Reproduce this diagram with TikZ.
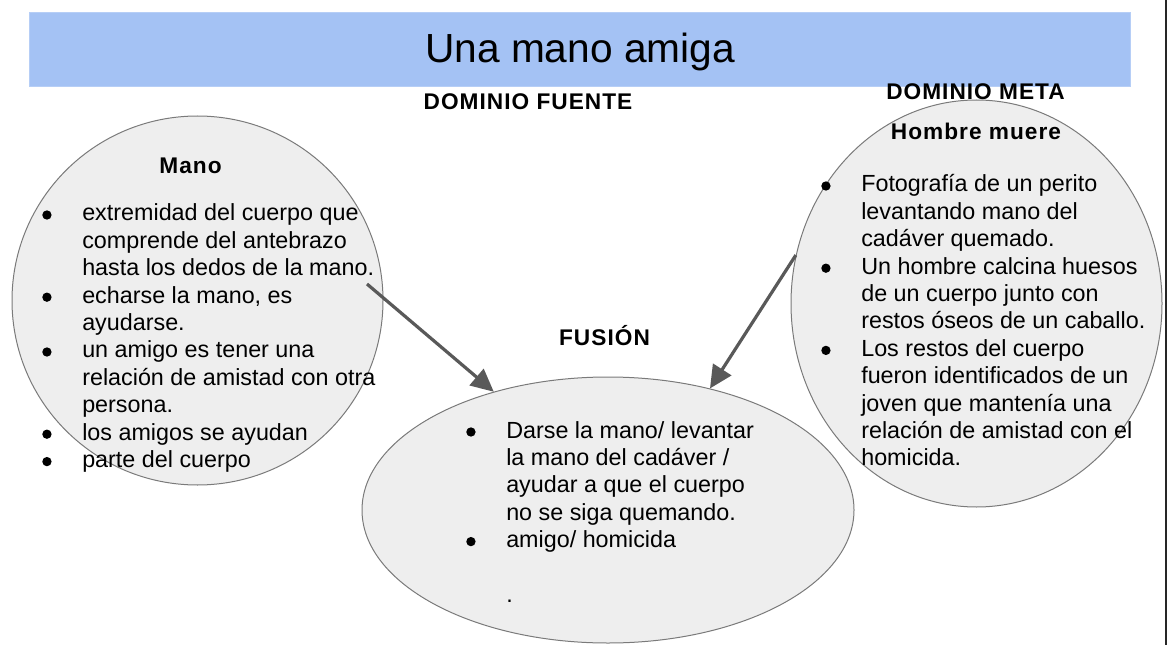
\documentclass[tikz,border=0pt]{standalone}
\usepackage{fontspec}
\setmainfont{Liberation Sans}
\usepackage{tikz}
\usetikzlibrary{shapes.geometric,arrows.meta}
\definecolor{banner}{HTML}{A4C2F4}
\definecolor{bubble}{HTML}{EEEEEE}
\definecolor{rim}{HTML}{7A7A7A}
\definecolor{arrowgray}{HTML}{595959}
\newlength{\bulw}\setlength{\bulw}{30pt}
\newcommand{\blt}{\tikz[baseline=-4.5pt]\fill (0,0) circle (3.5pt);}

\begin{document}
\begin{tikzpicture}[x=0.75pt,y=-0.75pt,
blob/.style={ellipse, draw=rim, fill=bubble, inner sep=0pt, line width=0.75pt},
heading/.style={anchor=base, inner sep=0pt, font=\fontsize{17}{20}\selectfont\bfseries\addfontfeature{LetterSpace=4.5}},
listtext/.style={anchor=base west, inner sep=0pt, font=\fontsize{17.5}{20.55}\selectfont},
link/.style={-{Triangle[length=17pt,width=16pt]}, draw=arrowgray, line width=2.4pt}]
\useasboundingbox (0,0) rectangle (1170,645);
% title bar
\node (banner) at (579.5,49) [fill=banner, draw=banner!80!white, minimum width=825.75pt, minimum height=55.5pt, inner sep=0pt] {};
\node (title) at (580,63) [anchor=base, inner sep=0pt, font=\fontsize{30.5}{36}\selectfont] {Una mano amiga};
\draw [line width=1.5pt, black!85] (1165.5,0) -- (1165.5,645);
% the three domains
\node (fuente) at (197.5,300.5) [blob, minimum width=278.25pt, minimum height=276.75pt] {};
\node (meta) at (976.5,303.5) [blob, minimum width=278.25pt, minimum height=305.25pt] {};
\node (fusion) at (608,510) [blob, minimum width=369pt, minimum height=199.5pt] {};
\node (fuente-title) at (528,110) [heading] {DOMINIO FUENTE};
\node (meta-title) at (975.5,100) [heading] {DOMINIO META};
\node (fusion-title) at (604.5,345) [heading] {FUSIÓN};
\node (mano) at (190.5,174) [heading] {Mano};
\node (hombre) at (976,140) [heading] {Hombre muere};
\node (mano-list) at (42,221) [listtext] {%
\begin{tabular}[t]{@{}p{\bulw}@{}l@{}}
\blt & extremidad del cuerpo que\\
 & comprende del antebrazo\\
 & hasta los dedos de la mano.\\
\blt & echarse la mano, es\\
 & ayudarse.\\
\blt & un amigo es tener una\\
 & relación de amistad con otra\\
 & persona.\\
\blt & los amigos se ayudan\\
\blt & parte del cuerpo
\end{tabular}};
\node (hombre-list) at (821,192) [listtext] {%
\begin{tabular}[t]{@{}p{\bulw}@{}l@{}}
\blt & Fotografía de un perito\\
 & levantando mano del\\
 & cadáver quemado.\\
\blt & Un hombre calcina huesos\\
 & de un cuerpo junto con\\
 & restos óseos de un caballo.\\
\blt & Los restos del cuerpo\\
 & fueron identificados de un\\
 & joven que mantenía una\\
 & relación de amistad con el\\
 & homicida.
\end{tabular}};
\node (fusion-list) at (466,438) [listtext] {%
\begin{tabular}[t]{@{}p{\bulw}@{}l@{}}
\blt & Darse la mano/ levantar\\
 & la mano del cadáver /\\
 & ayudar a que el cuerpo\\
 & no se siga quemando.\\
\blt & amigo/ homicida\\
 & \\
 & .
\end{tabular}};
% arrows into the blend
\coordinate (mano-out) at (367,284);
\draw [link] (mano-out) -- (fusion.134);
\draw [link] (meta.165) -- (fusion.50);
\end{tikzpicture}
\end{document}
